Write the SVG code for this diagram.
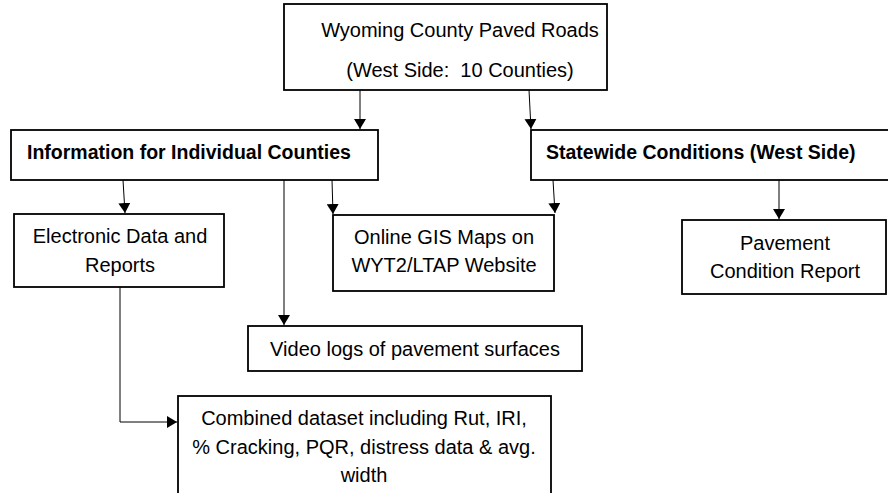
<svg xmlns="http://www.w3.org/2000/svg" width="888" height="493" viewBox="0 0 888 493">
<style>
.box{fill:#fff;stroke:#000;stroke-width:1.8}
.t{font-family:"Liberation Sans",Arial,sans-serif;font-size:20px;fill:#000;text-anchor:middle}
.b{font-family:"Liberation Sans",Arial,sans-serif;font-size:19.5px;font-weight:bold;fill:#000}
.c{stroke:#000;stroke-width:1;fill:none}
</style>
<defs>
<marker id="ah" viewBox="0 0 10 12" refX="10" refY="6" markerWidth="10" markerHeight="12" markerUnits="userSpaceOnUse" orient="auto">
<path d="M0,0 L10,6 L0,12 Z" fill="#000"/>
</marker>
</defs>
<rect width="888" height="493" fill="#fff"/>
<g id="connectors">
<line class="c" x1="360" y1="90" x2="360" y2="129" marker-end="url(#ah)"/>
<line class="c" x1="529" y1="90" x2="531" y2="129" marker-end="url(#ah)"/>
<line class="c" x1="123" y1="180" x2="125" y2="213" marker-end="url(#ah)"/>
<line class="c" x1="284" y1="180" x2="284" y2="325" marker-end="url(#ah)"/>
<line class="c" x1="332" y1="180" x2="333" y2="214" marker-end="url(#ah)"/>
<line class="c" x1="553" y1="180" x2="555" y2="213" marker-end="url(#ah)"/>
<line class="c" x1="779" y1="180" x2="779" y2="219" marker-end="url(#ah)"/>
<path class="c" d="M120,287 L120,422 L177,422" marker-end="url(#ah)"/>
</g>
<g id="n-top">
<rect class="box" x="284" y="4" width="323" height="86"/>
<text class="t" x="460" y="37">Wyoming County Paved Roads</text>
<text class="t" x="460" y="77" xml:space="preserve">(West Side:  10 Counties)</text>
</g>
<g id="n-info">
<rect class="box" x="11" y="130" width="367" height="50"/>
<text class="b" x="27" y="159">Information for Individual Counties</text>
</g>
<g id="n-state">
<rect class="box" x="531" y="130" width="365" height="50"/>
<text class="b" x="546" y="159">Statewide Conditions (West Side)</text>
</g>
<g id="n-elec">
<rect class="box" x="14" y="214" width="210" height="73"/>
<text class="t" x="120" y="243">Electronic Data and</text>
<text class="t" x="120" y="272">Reports</text>
</g>
<g id="n-gis">
<rect class="box" x="333" y="215" width="221" height="76"/>
<text class="t" x="444" y="244">Online GIS Maps on</text>
<text class="t" x="444" y="272">WYT2/LTAP Website</text>
</g>
<g id="n-pcr">
<rect class="box" x="682" y="220" width="204" height="74"/>
<text class="t" x="785" y="250">Pavement</text>
<text class="t" x="785" y="278">Condition Report</text>
</g>
<g id="n-video">
<rect class="box" x="248" y="326" width="334" height="45"/>
<text class="t" x="415" y="356">Video logs of pavement surfaces</text>
</g>
<g id="n-combined">
<rect class="box" x="178" y="396" width="373" height="110"/>
<text class="t" x="364" y="425">Combined dataset including Rut, IRI,</text>
<text class="t" x="364" y="454">% Cracking, PQR, distress data &amp; avg.</text>
<text class="t" x="364" y="482">width</text>
</g>
</svg>
